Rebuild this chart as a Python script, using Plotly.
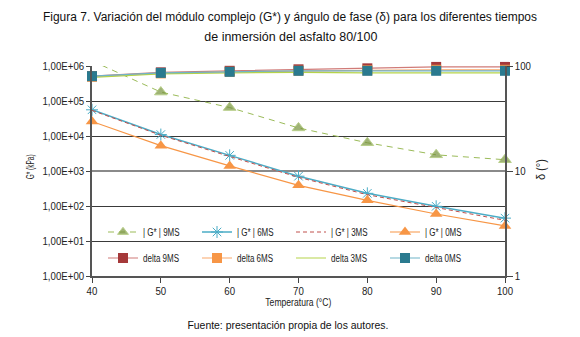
import plotly.graph_objects as go

# ---------------- data ----------------
temps = [40, 50, 60, 70, 80, 90, 100]

g9 = [1.4e6, 1.8e5, 6.5e4, 1.7e4, 6.4e3, 2.9e3, 2.1e3]
g6 = [5.6e4, 1.1e4, 2.8e3, 7.1e2, 2.3e2, 9.8e1, 4.5e1]
g3 = [5.4e4, 1.05e4, 2.6e3, 6.6e2, 2.1e2, 9.2e1, 3.9e1]
g0 = [2.6e4, 5.3e3, 1.4e3, 3.9e2, 1.45e2, 5.9e1, 2.7e1]

d9 = [80, 87, 90, 93, 95, 98, 98]
d6 = [79, 85, 88, 90, 91, 92, 92]
d3 = [78, 84, 86, 87, 86, 86, 86]
d0 = [80, 86, 88, 90, 90, 90, 90]

left_ticks = [1, 10, 100, 1e3, 1e4, 1e5, 1e6]
left_ticktext = ["1,00E+00", "1,00E+01", "1,00E+02", "1,00E+03",
                 "1,00E+04", "1,00E+05", "1,00E+06"]
right_ticks = [1, 10, 100]
right_ticktext = ["1", "10", "100"]
x_ticks = [40, 50, 60, 70, 80, 90, 100]

names_g = ["| G* | 9MS", "| G* | 6MS", "| G* | 3MS", "| G* | 0MS"]
names_d = ["delta 9MS", "delta 6MS", "delta 3MS", "delta 0MS"]

title_l1 = "Figura 7. Variación del módulo complejo (G*) y ángulo de fase (δ) para los diferentes tiempos"
title_l2 = "de inmersión del asfalto 80/100"
source = "Fuente: presentación propia de los autores."

FONT = "Liberation Sans, Arial, sans-serif"
YMAX = 1e6

fig = go.Figure()

# |G*| series (left axis)
fig.add_trace(go.Scatter(
    x=temps, y=g9, name=names_g[0], mode="lines+markers", legend="legend",
    line=dict(color="#9BBB59", width=1, dash="6px,5px"),
    marker=dict(symbol="triangle-up", color="#77933C",
                size=[0 if v > YMAX else 11 for v in g9]),
    cliponaxis=False))
fig.add_trace(go.Scatter(
    x=temps, y=g6, name=names_g[1], mode="lines+markers", legend="legend",
    line=dict(color="#4BACC6", width=1.5),
    marker=dict(symbol="asterisk-open", size=10,
                line=dict(color="#31859C", width=1)),
    cliponaxis=False))
fig.add_trace(go.Scatter(
    x=temps, y=g3, name=names_g[2], mode="lines", legend="legend",
    line=dict(color="#C0504D", width=1, dash="4px,3px"),
    cliponaxis=False))
fig.add_trace(go.Scatter(
    x=temps, y=g0, name=names_g[3], mode="lines+markers", legend="legend",
    line=dict(color="#F79646", width=1.2),
    marker=dict(symbol="triangle-up", color="#F79646", size=11),
    cliponaxis=False))

# delta series (right axis)
fig.add_trace(go.Scatter(
    x=temps, y=d9, name=names_d[0], mode="lines+markers", yaxis="y2", legend="legend2",
    line=dict(color="#D07B78", width=1.2),
    marker=dict(symbol="square", color="#A5393A", size=10),
    cliponaxis=False))
fig.add_trace(go.Scatter(
    x=temps, y=d6, name=names_d[1], mode="lines+markers", yaxis="y2", legend="legend2",
    line=dict(color="#F9A86A", width=1.2),
    marker=dict(symbol="square", color="#F79646", size=10),
    cliponaxis=False))
fig.add_trace(go.Scatter(
    x=temps, y=d3, name=names_d[2], mode="lines", yaxis="y2", legend="legend2",
    line=dict(color="#B5D34A", width=1.2),
    cliponaxis=False))
fig.add_trace(go.Scatter(
    x=temps, y=d0, name=names_d[3], mode="lines+markers", yaxis="y2", legend="legend2",
    line=dict(color="#6FB3C8", width=1.2),
    marker=dict(symbol="square", color="#2A7A8F", size=10),
    cliponaxis=False))

# plot area: x 92..505, y 66..276
L, R, T, B = 92, 75, 66, 61
W, H = 580, 337
ph = H - T - B
pw = W - L - R


def py(px):
    return (H - B - px) / ph


def pxx(px):
    return (px - L) / pw


TICKF = dict(size=10.5, family=FONT, color="#222222")
LEGF = dict(size=10, family=FONT, color="#222222")

fig.update_layout(
    width=W, height=H,
    margin=dict(l=L, r=R, t=T, b=B, pad=0),
    paper_bgcolor="white", plot_bgcolor="white",
    font=dict(family=FONT, color="#222222", size=10),
    showlegend=True,
    xaxis=dict(range=[40, 100], tickvals=x_ticks, ticks="outside", ticklen=5,
               tickcolor="#444444", showline=True, linecolor="#555555", linewidth=1.5,
               showgrid=False, zeroline=False, tickfont=TICKF),
    yaxis=dict(type="log", range=[0, 6], tickvals=left_ticks, ticktext=left_ticktext,
               ticks="outside", ticklen=4, tickcolor="#444444",
               showline=True, linecolor="#555555", linewidth=1.5,
               showgrid=True, gridcolor="#3a3a3a", gridwidth=1, zeroline=False,
               tickfont=TICKF),
    yaxis2=dict(type="log", range=[0, 2], overlaying="y", side="right",
                tickvals=right_ticks, ticktext=right_ticktext,
                ticks="outside", ticklen=6, tickcolor="#444444",
                showline=True, linecolor="#555555", linewidth=1.5,
                showgrid=True, gridcolor="#8a8a8a", gridwidth=2, zeroline=False,
                tickfont=TICKF),
    legend=dict(orientation="h", x=pxx(103), xanchor="left",
                y=py(232), yanchor="middle", bgcolor="rgba(0,0,0,0)",
                entrywidth=49, font=LEGF, itemwidth=30, traceorder="normal"),
    legend2=dict(orientation="h", x=pxx(103), xanchor="left",
                 y=py(258), yanchor="middle", bgcolor="rgba(0,0,0,0)",
                 entrywidth=49, font=LEGF, itemwidth=30, traceorder="normal"),
)

ann = [
    dict(text=title_l1, x=pxx(290), xref="paper", y=py(17), yref="paper",
         xanchor="center", yanchor="middle", showarrow=False,
         font=dict(size=12.5, family=FONT, color="#111111")),
    dict(text=title_l2, x=pxx(291), xref="paper", y=py(37), yref="paper",
         xanchor="center", yanchor="middle", showarrow=False,
         font=dict(size=12.5, family=FONT, color="#111111")),
    dict(text=source, x=pxx(288), xref="paper", y=py(325), yref="paper",
         xanchor="center", yanchor="middle", showarrow=False,
         font=dict(size=11.5, family=FONT, color="#111111")),
    dict(text="Temperatura (°C)", x=pxx(298), xref="paper", y=py(302),
         yref="paper", xanchor="center", yanchor="middle", showarrow=False,
         font=dict(size=10.5, family=FONT, color="#222222")),
    dict(text="G* (kPa)", x=pxx(30), xref="paper", y=py(167),
         yref="paper", xanchor="center", yanchor="middle", showarrow=False,
         textangle=-90, font=dict(size=10, family=FONT, color="#222222")),
    dict(text="δ (°)", x=pxx(541), xref="paper", y=py(170),
         yref="paper", xanchor="center", yanchor="middle", showarrow=False,
         textangle=-90, font=dict(size=12, family=FONT, color="#222222")),
]
fig.update_layout(annotations=ann)

# condensed look: squeeze rendered texts horizontally (text stays real text)
post = """
document.body.style.margin='0px';
var gd=document.getElementById('{plot_id}');
function squeezeAll(){
  var targets={0:494,1:173,2:201,3:66,4:25,5:21};
  gd.querySelectorAll('g.annotation').forEach(function(g){
    var i=g.getAttribute('data-index'); var t=g.querySelector('text');
    if(t && targets[i]!==undefined){
      t.setAttribute('lengthAdjust','spacingAndGlyphs');
      t.setAttribute('textLength', targets[i]);
    }
  });
  function sq(sel, f){
    document.querySelectorAll(sel).forEach(function(t){
      if(t.getAttribute('data-sq')) return;
      var w=t.getComputedTextLength();
      if(!w) return;
      t.setAttribute('lengthAdjust','spacingAndGlyphs');
      t.setAttribute('textLength', w*f);
      t.setAttribute('data-sq','1');
    });
  }
  sq('text.legendtext, text.legend2text', 0.8);
  sq('g.ytick text, g.y2tick text, g.xtick text', 0.92);
}
squeezeAll();
setTimeout(squeezeAll, 0);
setTimeout(squeezeAll, 100);
"""

fig.write_html("out.html", post_script=post, config={"displayModeBar": False})
